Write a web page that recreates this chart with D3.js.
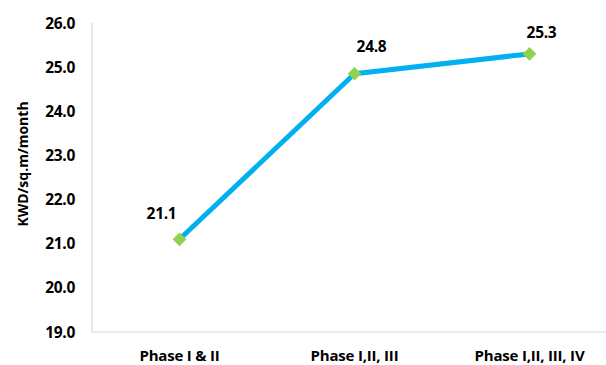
<!DOCTYPE html>
<html>
<head>
<meta charset="utf-8">
<script src="https://cdn.jsdelivr.net/npm/d3@7"></script>
<style>
  html, body { margin: 0; padding: 0; background: #fff; }
  svg { display: block; }
  text { font-family: "Open Sans", "Liberation Sans", sans-serif; font-weight: bold; fill: #000; }
</style>
</head>
<body>
<svg id="chart" width="606" height="365"></svg>
<script>
// Average rent by development phase
const categories = ["Phase I & II", "Phase I,II, III", "Phase I,II, III, IV"];
const rentValues = [21.1, 24.85, 25.3];
const valueLabels = ["21.1", "24.8", "25.3"];
const yTicks = [19, 20, 21, 22, 23, 24, 25, 26];
const yTitle = "KWD/sq.m/month";

// label offsets from each point (dx, dy)
const labelOffsets = [[-18, -26], [17, -27], [12, -21]];

const svg = d3.select("#chart");
const plot = { left: 92, right: 617, top: 23, bottom: 332 };

const x = d3.scalePoint().domain(categories).range([plot.left, plot.right]).padding(0.5);
const y = d3.scaleLinear().domain([19, 26]).range([plot.bottom, plot.top]);

// axes lines
svg.append("line").attr("x1", plot.left).attr("x2", plot.left).attr("y1", plot.top).attr("y2", plot.bottom)
  .attr("stroke", "#d9d9d9").attr("stroke-width", 1.2);
svg.append("line").attr("x1", plot.left).attr("x2", 606).attr("y1", plot.bottom).attr("y2", plot.bottom)
  .attr("stroke", "#d9d9d9").attr("stroke-width", 1.2);

// y tick labels
svg.append("g").selectAll("text").data(yTicks).join("text")
  .attr("x", 75).attr("y", d => y(d)).attr("dy", "0.36em")
  .attr("text-anchor", "end").attr("font-size", 15.5)
  .attr("letter-spacing", "-0.3")
  .text(d => d3.format(".1f")(d));

// x category labels
svg.append("g").selectAll("text").data(categories).join("text")
  .attr("x", d => x(d)).attr("y", 355.5).attr("dy", "0.36em")
  .attr("text-anchor", "middle").attr("font-size", 15)
  .attr("letter-spacing", "-0.2")
  .text(d => d);

// y title
svg.append("text")
  .attr("transform", "translate(23,164) rotate(-90)")
  .attr("dy", "0.36em")
  .attr("text-anchor", "middle").attr("font-size", 14)
  .text(yTitle);

const pts = categories.map((c, i) => [x(c), y(rentValues[i])]);

// line
svg.append("path")
  .attr("d", d3.line()(pts))
  .attr("fill", "none").attr("stroke", "#00B0F0")
  .attr("stroke-width", 5).attr("stroke-linejoin", "round");

// diamond markers
svg.append("g").selectAll("path").data(pts).join("path")
  .attr("transform", d => `translate(${d[0]},${d[1]})`)
  .attr("d", d3.symbol(d3.symbolDiamond2, 120)())
  .attr("fill", "#92D050");

// value labels
svg.append("g").selectAll("text").data(pts).join("text")
  .attr("x", (d, i) => d[0] + labelOffsets[i][0])
  .attr("y", (d, i) => d[1] + labelOffsets[i][1])
  .attr("dy", "0.36em")
  .attr("text-anchor", "middle").attr("font-size", 15.5)
  .attr("letter-spacing", "-0.3")
  .text((d, i) => valueLabels[i]);
</script>
</body>
</html>
